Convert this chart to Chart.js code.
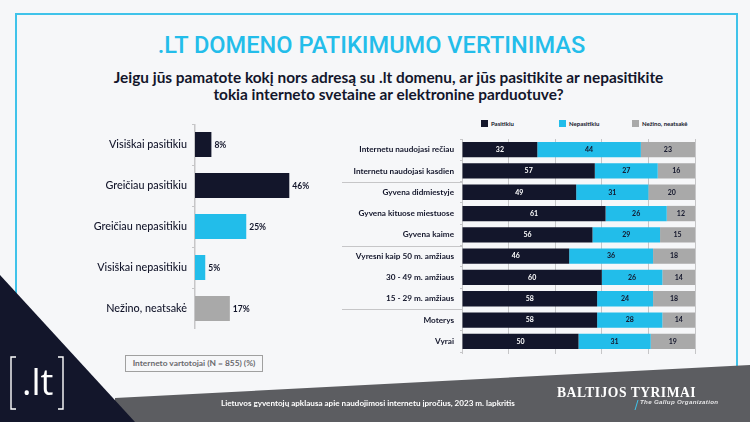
<!DOCTYPE html>
<html lang="lt">
<head>
<meta charset="UTF-8">
<title>.LT domeno patikimumo vertinimas</title>
<script src="https://cdn.jsdelivr.net/npm/chart.js"></script>
<style>
    html, body { margin: 0; padding: 0; }
    body { width: 750px; height: 422px; overflow: hidden; position: relative; background: #f6f7f9; font-family: Lato, sans-serif; color: #13162b; }
    .abs { position: absolute; white-space: nowrap; }
    #frame { left: 15px; top: 13px; width: 719px; height: 400px; border: 2px solid #3fc3ea; }
    #title { left: 0; width: 743px; top: 28px; text-align: center; font-family: Roboto, sans-serif; font-weight: 500; font-size: 23.6px; line-height: 34px; color: #23bdea; }
    #question { left: 0; width: 777px; top: 69px; text-align: center; font-weight: 700; font-size: 15.4px; line-height: 17.3px; }
    #leftChart { position: absolute; left: 60px; top: 124px; }
    #rightChart { position: absolute; left: 340px; top: 139px; }
    #legend div { position: absolute; top: 120px; font-size: 6px; line-height: 7px; font-weight: 700; white-space: nowrap; }
    #legend i { position: absolute; left: -10px; top: 0; width: 7px; height: 7px; }
    #note { left: 125px; top: 355px; width: 136px; height: 15px; border: 1.5px solid #a0a0a0; font-size: 8.4px; line-height: 15px; font-weight: 700; color: #6a6a6e; text-align: center; }
    #decor { position: absolute; left: 0; top: 0; }
    #footer { left: 221px; top: 397px; font-size: 8.1px; line-height: 13px; font-weight: 700; color: #fff; }
    #brand { left: 557px; top: 384px; font-family: "Liberation Serif", serif; font-weight: 700; font-size: 13.6px; line-height: 17px; letter-spacing: 0.5px; color: #fff; }
    #gallup { left: 640px; top: 397px; font-family: "Liberation Sans", sans-serif; font-style: italic; font-weight: 700; font-size: 6.2px; line-height: 10px; letter-spacing: 0.3px; color: #e4e4e6; }
    #logo { left: 22px; top: 359px; font-family: "Open Sans", sans-serif; font-weight: 500; font-size: 36px; line-height: 46px; color: #fff; }
</style>
</head>
<body>
    <div id="frame" class="abs"></div>
    <div id="title" class="abs">.LT DOMENO PATIKIMUMO VERTINIMAS</div>
    <div id="question" class="abs">Jeigu jūs pamatote kokį nors adresą su .lt domenu, ar jūs pasitikite ar nepasitikite<br>tokia interneto svetaine ar elektronine parduotuve?</div>

    <canvas id="leftChart" width="258" height="205"></canvas>
    <canvas id="rightChart" width="357" height="215"></canvas>
    <div id="legend"></div>
    <div id="note" class="abs">Interneto vartotojai (N = 855) (%)</div>

    <svg id="decor" width="750" height="422">
        <polygon points="115,398 750,365 750,422 115,422" fill="#5c5d61"/>
        <polygon points="0,275 135,422 0,422" fill="#13162b"/>
        <path d="M16 357 H11 V409 H16 M58 357 H63 V409 H58" fill="none" stroke="#fff" stroke-width="1.4"/>
        <line x1="635" y1="410" x2="638" y2="400" stroke="#3fc3ea" stroke-width="1"/>
    </svg>
    <div id="logo" class="abs">.lt</div>
    <div id="footer" class="abs">Lietuvos gyventojų apklausa apie naudojimosi internetu įpročius, 2023 m. lapkritis</div>
    <div id="brand" class="abs">BALTIJOS TYRIMAI</div>
    <div id="gallup" class="abs">The Gallup Organization</div>

    <script>
        const answers = ["Visiškai pasitikiu", "Greičiau pasitikiu", "Greičiau nepasitikiu", "Visiškai nepasitikiu", "Nežino, neatsakė"];
        const answerValues = [8, 46, 25, 5, 17];

        const groups = [
            "Internetu naudojasi rečiau", "Internetu naudojasi kasdien",
            "Gyvena didmiestyje", "Gyvena kituose miestuose", "Gyvena kaime",
            "Vyresni kaip 50 m. amžiaus", "30 - 49 m. amžiaus", "15 - 29 m. amžiaus",
            "Moterys", "Vyrai"
        ];
        const trusts = [32, 57, 49, 61, 56, 46, 60, 58, 58, 50];
        const distrusts = [44, 27, 31, 26, 29, 36, 26, 24, 28, 31];
        const unsure = [23, 16, 20, 12, 15, 18, 14, 18, 14, 19];
        const seriesNames = ["Pasitikiu", "Nepasitikiu", "Nežino, neatsakė"];

        const DARK = "#13162b";
        const BLUE = "#22bdea";
        const GREY = "#a9a9a9";
        const LINE = "#c6c6c8";
        const TICK_FONT = "Lato, sans-serif";

        // the rounded answers do not always add up to 100, the bars still fill the whole width
        function share(values, i) {
            const total = trusts[i] + distrusts[i] + unsure[i];
            return values[i] / total * 100;
        }

        // tick padding also pads the plot top and bottom, the slide has none of that
        function fixWidth(width) {
            return function (scale) {
                scale.width = width;
                scale.paddingTop = 0;
                scale.paddingBottom = 0;
            };
        }

        const percentLabels = {
            id: "percentLabels",
            afterDatasetsDraw(chart) {
                const ctx = chart.ctx;
                ctx.save();
                ctx.font = "700 8.5px " + TICK_FONT;
                ctx.fillStyle = DARK;
                ctx.textBaseline = "middle";
                chart.getDatasetMeta(0).data.forEach(function (bar, i) {
                    ctx.fillText(answerValues[i] + "%", bar.x + 3, bar.y + 1);
                });
                ctx.restore();
            }
        };

        const rowLabels = {
            id: "rowLabels",
            afterDatasetsDraw(chart) {
                const ctx = chart.ctx;
                const raw = [trusts, distrusts, unsure];
                ctx.save();
                ctx.font = "700 7px " + TICK_FONT;
                ctx.textAlign = "center";
                ctx.textBaseline = "middle";
                raw.forEach(function (values, d) {
                    ctx.fillStyle = d === 0 ? "#fff" : DARK;
                    chart.getDatasetMeta(d).data.forEach(function (bar, i) {
                        const c = bar.getCenterPoint();
                        ctx.fillText(values[i], c.x, c.y);
                    });
                });
                ctx.restore();
            }
        };

        // lines that split the groups: internet use, place, age, gender
        const groupDividers = {
            id: "groupDividers",
            afterDraw(chart) {
                const ctx = chart.ctx;
                const y = chart.scales.y;
                ctx.save();
                ctx.strokeStyle = LINE;
                ctx.lineWidth = 1;
                [1, 4, 7].forEach(function (i) {
                    const py = Math.round((y.getPixelForTick(i) + y.getPixelForTick(i + 1)) / 2) + 0.5;
                    ctx.beginPath();
                    ctx.moveTo(2, py);
                    ctx.lineTo(chart.chartArea.left, py);
                    ctx.stroke();
                });
                ctx.restore();
            }
        };

        new Chart(document.getElementById("leftChart"), {
            type: "bar",
            plugins: [percentLabels],
            data: {
                labels: answers,
                datasets: [{
                    data: answerValues,
                    backgroundColor: [DARK, DARK, BLUE, BLUE, GREY],
                    barPercentage: 0.61,
                    categoryPercentage: 1
                }]
            },
            options: {
                indexAxis: "y",
                responsive: false,
                animation: false,
                layout: { padding: 0 },
                plugins: { legend: { display: false }, tooltip: { enabled: false } },
                scales: {
                    x: { display: false, min: 0, max: 60 },
                    y: {
                        afterFit: fixWidth(135),
                        border: { color: LINE, width: 1.5 },
                        grid: { drawOnChartArea: false, color: LINE, tickLength: 3 },
                        ticks: { color: DARK, padding: 5, font: { family: TICK_FONT, size: 10.8, weight: "500" } }
                    }
                }
            }
        });

        new Chart(document.getElementById("rightChart"), {
            type: "bar",
            plugins: [rowLabels, groupDividers],
            data: {
                labels: groups,
                datasets: [trusts, distrusts, unsure].map(function (values, d) {
                    return {
                        label: seriesNames[d],
                        data: values.map(function (v, i) { return share(values, i); }),
                        backgroundColor: [DARK, BLUE, GREY][d],
                        barPercentage: 0.72,
                        categoryPercentage: 1
                    };
                })
            },
            options: {
                indexAxis: "y",
                responsive: false,
                animation: false,
                layout: { padding: { right: 2 } },
                plugins: { legend: { display: false }, tooltip: { enabled: false } },
                scales: {
                    x: {
                        stacked: true,
                        min: 0,
                        max: 100,
                        afterFit(scale) { scale.height = 2; },
                        border: { display: false },
                        grid: { color: LINE, tickLength: 2 },
                        ticks: { display: false, stepSize: 20 }
                    },
                    y: {
                        stacked: true,
                        afterFit: fixWidth(122),
                        border: { color: LINE, width: 1 },
                        grid: { drawOnChartArea: false, color: LINE, tickLength: 2 },
                        ticks: { color: DARK, padding: 6, font: { family: TICK_FONT, size: 8.2, weight: "700" } }
                    }
                }
            }
        });

        // legend is spaced by hand like in the original slide
        const legendLeft = [491, 569, 642];
        const legend = document.getElementById("legend");
        seriesNames.forEach(function (name, d) {
            const item = document.createElement("div");
            item.style.left = legendLeft[d] + "px";
            item.innerHTML = '<i style="background:' + [DARK, BLUE, GREY][d] + '"></i>' + name;
            legend.appendChild(item);
        });
    </script>
</body>
</html>
